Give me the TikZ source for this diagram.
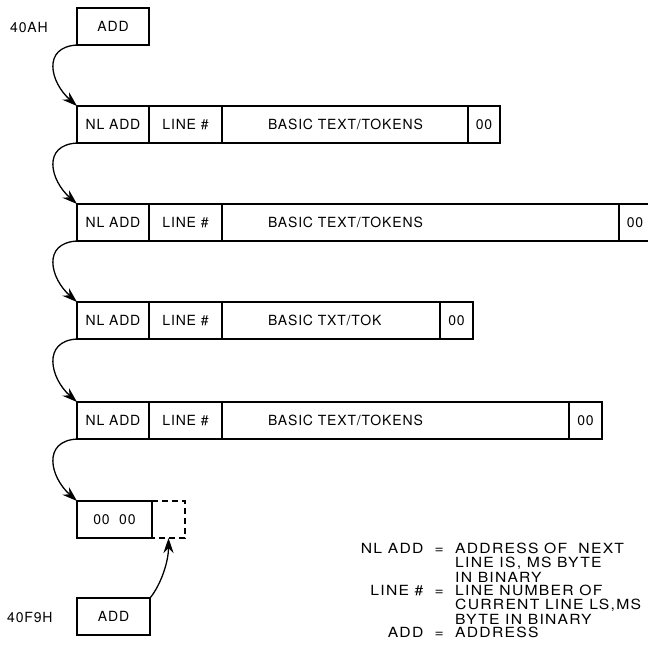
\documentclass[tikz,border=0pt]{standalone}
\usepackage{fontspec}
\setmainfont{TeX Gyre Heros}[LetterSpace=6]
\newfontfamily\legendfont{TeX Gyre Heros}[LetterSpace=9, FakeStretch=1.12]
\usetikzlibrary{arrows.meta, positioning}

\begin{document}
\begin{tikzpicture}[x=1pt, y=-1pt, font=\fontsize{14}{14.5}\selectfont,
        cell/.style={draw, line width=1.3pt, minimum height=37pt, inner sep=0pt, outer sep=0pt},
        txtcell/.style={cell, text width=#1, align=left, execute at begin node={\hspace*{46pt}}},
        link/.style={line width=1.3pt, -{Stealth[length=15pt, width=10pt]}},
        legend/.style={inner sep=0pt, font=\legendfont\fontsize{14}{14.3}\selectfont}
    ]
        \useasboundingbox (0,0) rectangle (648,657);

        \node[cell, minimum width=72pt, anchor=north west] (add1) at (77,8) {ADD};
        \node[anchor=west, inner sep=0pt] (lbl1) at (10,27) {40AH};

        \node[cell, minimum width=72pt, anchor=north west] (nl1) at (77,106) {NL ADD};
        \node[cell, minimum width=73pt, right=0pt of nl1] (ln1) {LINE \#};
        \node[txtcell=246pt, right=0pt of ln1] (txt1) {BASIC TEXT/TOKENS};
        \node[cell, minimum width=32pt, right=0pt of txt1] (end1) {00};

        \node[cell, minimum width=72pt, anchor=north west] (nl2) at (77,204) {NL ADD};
        \node[cell, minimum width=73pt, right=0pt of nl2] (ln2) {LINE \#};
        \node[txtcell=397pt, right=0pt of ln2] (txt2) {BASIC TEXT/TOKENS};
        \node[cell, minimum width=32pt, right=0pt of txt2] (end2) {00};

        \node[cell, minimum width=72pt, anchor=north west] (nl3) at (77,302) {NL ADD};
        \node[cell, minimum width=73pt, right=0pt of nl3] (ln3) {LINE \#};
        \node[txtcell=218pt, right=0pt of ln3] (txt3) {BASIC TXT/TOK};
        \node[cell, minimum width=33pt, right=0pt of txt3] (end3) {00};

        \node[cell, minimum width=72pt, anchor=north west] (nl4) at (77,402) {NL ADD};
        \node[cell, minimum width=73pt, right=0pt of nl4] (ln4) {LINE \#};
        \node[txtcell=347pt, right=0pt of ln4] (txt4) {BASIC TEXT/TOKENS};
        \node[cell, minimum width=33pt, right=0pt of txt4] (end4) {00};

        \node[cell, minimum width=75pt, anchor=north west] (last) at (77,501) {00\ \ 00};
        \node[minimum width=33pt, minimum height=37pt, inner sep=0pt, outer sep=0pt, right=0pt of last] (gap) {};
        \draw[line width=1.3pt, dash pattern=on 6pt off 4pt] (gap.north west) -- (gap.north east) -- (gap.south east) -- (gap.south west);

        \node[cell, minimum width=73pt, anchor=north west] (add2) at (77,598) {ADD};
        \node[anchor=west, inner sep=0pt] (lbl2) at (7,617) {40F9H};

        \draw[link] (add1.south west) .. controls +(-35,2) and +(-27,-24) .. (nl1.north west);
        \draw[link] (nl1.south west) .. controls +(-35,2) and +(-27,-24) .. (nl2.north west);
        \draw[link] (nl2.south west) .. controls +(-35,2) and +(-27,-24) .. (nl3.north west);
        \draw[link] (nl3.south west) .. controls +(-35,2) and +(-27,-24) .. (nl4.north west);
        \draw[link] (nl4.south west) .. controls +(-35,2) and +(-27,-24) .. (last.north west);
        \draw[link] (add2.north east) .. controls +(10,-12) and +(0,25) .. (gap.south);

        \node[legend, anchor=base east] (key1) at (444,553) {NL ADD\ \ =};
        \node[legend, anchor=north west, align=left] (val1) at (455,542.8) {ADDRESS OF\ \ NEXT\\LINE IS, MS BYTE\\IN BINARY};
        \node[legend, anchor=base east] (key2) at (444,595) {LINE \#\ \ =};
        \node[legend, anchor=north west, align=left] (val2) at (455,584.8) {LINE NUMBER OF\\CURRENT LINE LS,MS\\BYTE IN BINARY};
        \node[legend, anchor=base east] (key3) at (444,637) {ADD\ \ =};
        \node[legend, anchor=base west] (val3) at (455,637) {ADDRESS};
    \end{tikzpicture}
\end{document}
